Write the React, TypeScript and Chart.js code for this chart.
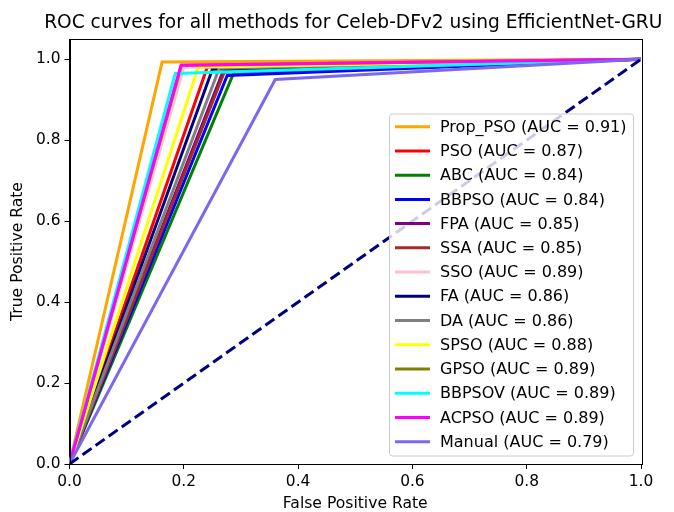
import React, { useEffect, useRef } from "react";
import { Chart, registerables } from "chart.js";

Chart.register(...registerables);

const methods = ["Prop_PSO", "PSO", "ABC", "BBPSO", "FPA", "SSA", "SSO", "FA", "DA", "SPSO", "GPSO", "BBPSOV", "ACPSO", "Manual"];
const aucs = ["0.91", "0.87", "0.84", "0.84", "0.85", "0.85", "0.89", "0.86", "0.86", "0.88", "0.89", "0.89", "0.89", "0.79"];
const fprs = [0.162, 0.241, 0.287, 0.276, 0.268, 0.272, 0.2, 0.25, 0.262, 0.225, 0.196, 0.185, 0.195, 0.36];
const tprs = [0.993, 0.98, 0.965, 0.96, 0.968, 0.972, 0.98, 0.975, 0.978, 0.98, 0.985, 0.965, 0.985, 0.95];
const colors = ["#FFA500", "#FF0000", "#008000", "#0000FF", "#800080", "#A52A2A", "#FFC0CB", "#000080", "#808080", "#FFFF00", "#808000", "#00FFFF", "#FF00FF", "#7B68EE"];
const xTicks = [0, 0.2, 0.4, 0.6, 0.8, 1.0];
const yTicks = [0, 0.2, 0.4, 0.6, 0.8, 1.0];
const titleText = "ROC curves for all methods for Celeb-DFv2 using EfficientNet-GRU";
const xLabel = "False Positive Rate";
const yLabel = "True Positive Rate";

const FONT = "DejaVu Sans";

const customPlugin = {
  id: "mplExtras",
  afterDraw(chart: any) {
    const { ctx, chartArea } = chart;
    ctx.save();
    // frame
    ctx.strokeStyle = "#000";
    ctx.lineWidth = 1;
    ctx.strokeRect(Math.round(chartArea.left) + 0.5, Math.round(chartArea.top) + 0.5, Math.round(chartArea.right - chartArea.left), Math.round(chartArea.bottom - chartArea.top));
    // title
    ctx.fillStyle = "#000";
    ctx.font = `18.6px '${FONT}'`;
    ctx.textAlign = "center";
    ctx.textBaseline = "alphabetic";
    ctx.fillText(titleText, (chartArea.left + chartArea.right) / 2 - 2, 28);
    // legend
    const bx = 389.5, by = 114, bw = 244, bh = 342;
    ctx.beginPath();
    const r = 3;
    ctx.moveTo(bx + r, by);
    ctx.lineTo(bx + bw - r, by);
    ctx.quadraticCurveTo(bx + bw, by, bx + bw, by + r);
    ctx.lineTo(bx + bw, by + bh - r);
    ctx.quadraticCurveTo(bx + bw, by + bh, bx + bw - r, by + bh);
    ctx.lineTo(bx + r, by + bh);
    ctx.quadraticCurveTo(bx, by + bh, bx, by + bh - r);
    ctx.lineTo(bx, by + r);
    ctx.quadraticCurveTo(bx, by, bx + r, by);
    ctx.closePath();
    ctx.fillStyle = "rgba(255,255,255,0.8)";
    ctx.fill();
    ctx.strokeStyle = "#cccccc";
    ctx.lineWidth = 1;
    ctx.stroke();
    ctx.font = `16px '${FONT}'`;
    ctx.textAlign = "left";
    ctx.textBaseline = "middle";
    methods.forEach((m, i) => {
      const y = 126.7 + i * 24.23;
      ctx.strokeStyle = colors[i];
      ctx.lineWidth = 3;
      ctx.beginPath();
      ctx.moveTo(395, y);
      ctx.lineTo(430, y);
      ctx.stroke();
      ctx.fillStyle = "#000";
      ctx.fillText(`${m} (AUC = ${aucs[i]})`, 440, y + 1);
    });
    ctx.restore();
  },
};

export default function App() {
  const ref = useRef<HTMLCanvasElement>(null);
  useEffect(() => {
    if (!ref.current) return;
    const datasets: any[] = methods.map((m, i) => ({
      label: `${m} (AUC = ${aucs[i]})`,
      data: [
        { x: 0, y: 0 },
        { x: fprs[i], y: tprs[i] },
        { x: 1, y: 1 },
      ],
      borderColor: colors[i],
      backgroundColor: colors[i],
      borderWidth: 3,
      pointRadius: 0,
      showLine: true,
      fill: false,
      tension: 0,
      order: -i,
    }));
    datasets.push({
      label: "diag",
      data: [
        { x: 0, y: 0 },
        { x: 1, y: 1 },
      ],
      borderColor: "#000080",
      borderWidth: 3,
      borderDash: [11, 5],
      pointRadius: 0,
      showLine: true,
      fill: false,
      order: -100,
    });
    const tickFont = { family: FONT, size: 15.4 };
    const chart = new Chart(ref.current, {
      type: "scatter",
      data: { datasets },
      plugins: [customPlugin],
      options: {
        responsive: false,
        animation: false,
        layout: { padding: { top: 39, right: 33, left: 0, bottom: 0 } },
        plugins: { legend: { display: false }, title: { display: false }, tooltip: { enabled: false } },
        scales: {
          x: {
            type: "linear",
            min: 0,
            max: 1,
            afterBuildTicks: (s: any) => {
              s.ticks = xTicks.map((v) => ({ value: v }));
            },
            afterFit: (s: any) => {
              s.height = 48;
            },
            ticks: { callback: (v: any) => Number(v).toFixed(1), font: tickFont, color: "#000", padding: 4, maxRotation: 0 },
            grid: { display: true, drawOnChartArea: false, drawTicks: true, tickLength: 5, color: "#000", lineWidth: 1 },
            border: { display: true, color: "#000", width: 1 },
            title: { display: true, text: xLabel, font: { family: FONT, size: 15.6, lineHeight: 1 }, color: "#000", padding: 0 },
          },
          y: {
            type: "linear",
            min: 0,
            max: 1.05,
            afterBuildTicks: (s: any) => {
              s.ticks = yTicks.map((v) => ({ value: v }));
            },
            afterFit: (s: any) => {
              s.width = 69.5;
            },
            ticks: { callback: (v: any) => Number(v).toFixed(1), font: tickFont, color: "#000", padding: 4 },
            grid: { display: true, drawOnChartArea: false, drawTicks: true, tickLength: 5, color: "#000", lineWidth: 1 },
            border: { display: true, color: "#000", width: 1 },
            title: { display: true, text: yLabel, font: { family: FONT, size: 15.6, lineHeight: 1 }, color: "#000", padding: { top: 10, bottom: 0 } },
          },
        },
      },
    } as any);
    return () => chart.destroy();
  }, []);
  return (
    <div style={{ position: "absolute", left: 0, top: 0, width: 674, height: 512, background: "#fff" }}>
      <canvas ref={ref} width={674} height={512} style={{ width: 674, height: 512, display: "block" }} />
    </div>
  );
}
